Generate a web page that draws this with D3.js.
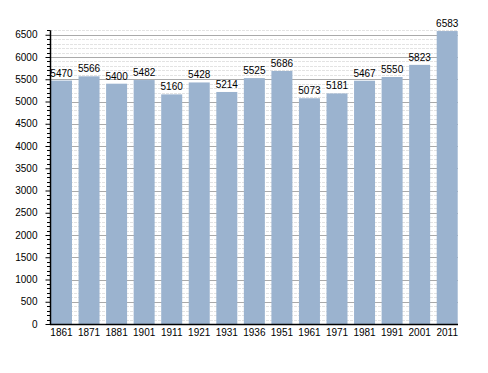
<!DOCTYPE html>
<html>
<head>
<meta charset="utf-8">
<script src="https://cdn.jsdelivr.net/npm/d3@7"></script>
<style>
  body { margin: 0; background: #fff; }
  text { font-family: "Liberation Sans", Arial, sans-serif; font-size: 10px; fill: #000; }
</style>
</head>
<body>
<svg width="488" height="373"></svg>
<script>
// population by census year
const years = ['1861', '1871', '1881', '1901', '1911', '1921', '1931', '1936', '1951', '1961', '1971', '1981', '1991', '2001', '2011'];
const population = [5470, 5566, 5400, 5482, 5160, 5428, 5214, 5525, 5686, 5073, 5181, 5467, 5550, 5823, 6583];
const yTicks = [0, 500, 1000, 1500, 2000, 2500, 3000, 3500, 4000, 4500, 5000, 5500, 6000, 6500];

const svg = d3.select('svg');
const plotLeft = 50, plotRight = 458, plotTop = 30.3, plotBottom = 324;

const y = d3.scaleLinear()
  .domain([0, 6600])
  .range([plotBottom, plotTop]);

const x = d3.scaleBand()
  .domain(years)
  .range([51, 457.7])
  .paddingInner(0.238)
  .paddingOuter(0);

// gridlines: minor every 100, major every 500
const minor = d3.range(0, 6601, 100).filter(v => v % 500 !== 0);
svg.append('g')
  .selectAll('line')
  .data(minor)
  .enter().append('line')
    .attr('x1', plotLeft).attr('x2', plotRight)
    .attr('y1', d => Math.round(y(d)) + 0.5)
    .attr('y2', d => Math.round(y(d)) + 0.5)
    .attr('stroke', '#e3e3e3')
    .attr('stroke-dasharray', '3,1');

svg.append('g')
  .selectAll('line')
  .data(yTicks.filter(v => v > 0))
  .enter().append('line')
    .attr('x1', plotLeft).attr('x2', plotRight)
    .attr('y1', d => Math.round(y(d)) + 0.5)
    .attr('y2', d => Math.round(y(d)) + 0.5)
    .attr('stroke', '#aaaaaa');

// bars
svg.append('g')
  .selectAll('rect')
  .data(population)
  .enter().append('rect')
    .attr('x', (d, i) => x(years[i]))
    .attr('y', d => y(d))
    .attr('width', x.bandwidth())
    .attr('height', d => plotBottom - y(d))
    .attr('fill', '#9bb3cf');

// value labels
svg.append('g')
  .selectAll('text')
  .data(population)
  .enter().append('text')
    .attr('x', (d, i) => x(years[i]) + x.bandwidth() / 2)
    .attr('y', d => y(d) - 4)
    .attr('text-anchor', 'middle')
    .text(d => d);

// y axis
const yAxis = svg.append('g')
  .attr('transform', `translate(${plotLeft + 0.5},0)`)
  .call(d3.axisLeft(y).tickValues(yTicks).tickFormat(d3.format('d')).tickSize(5).tickPadding(8));
yAxis.select('.domain').remove();
yAxis.selectAll('line').attr('stroke', '#000');
yAxis.selectAll('text').style('font-size', '10px').attr('fill', '#000');

svg.append('g')
  .selectAll('line')
  .data(minor)
  .enter().append('line')
    .attr('x1', plotLeft - 3).attr('x2', plotLeft)
    .attr('y1', d => Math.round(y(d)) + 0.5)
    .attr('y2', d => Math.round(y(d)) + 0.5)
    .attr('stroke', '#000');

svg.append('line')
  .attr('x1', plotLeft + 0.5).attr('x2', plotLeft + 0.5)
  .attr('y1', plotTop).attr('y2', plotBottom + 1)
  .attr('stroke', '#000').attr('stroke-width', 1.5);

// x axis
const xAxis = svg.append('g')
  .attr('transform', `translate(0,${plotBottom})`)
  .call(d3.axisBottom(x).tickSize(0).tickPadding(5));
xAxis.select('.domain').remove();
xAxis.selectAll('text').style('font-size', '10px').attr('fill', '#000');

svg.append('line')
  .attr('x1', plotLeft).attr('x2', plotRight)
  .attr('y1', plotBottom + 0.5).attr('y2', plotBottom + 0.5)
  .attr('stroke', '#000').attr('stroke-width', 1.5);
</script>
</body>
</html>
